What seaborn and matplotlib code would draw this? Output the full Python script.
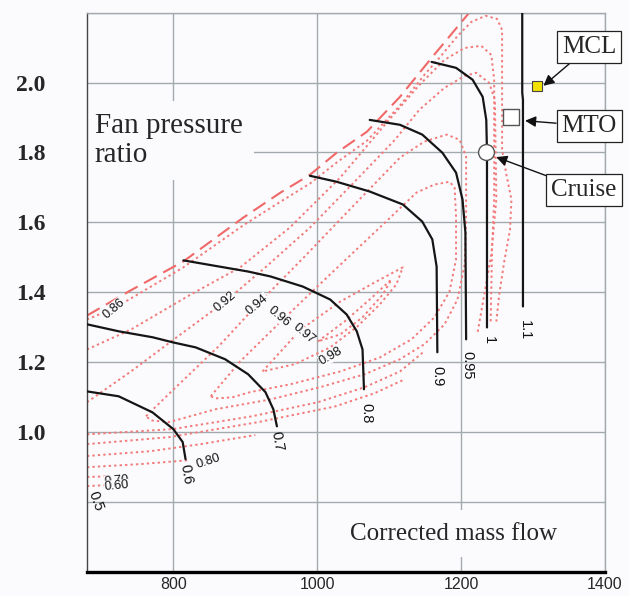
import matplotlib
matplotlib.use("Agg")
import matplotlib.pyplot as plt
import seaborn as sns

# ---- axes / ticks ----
x_ticks = [800, 1000, 1200, 1400]
x_tick_labels = ["800", "1000", "1200", "1400"]
y_ticks = [0.8, 1.0, 1.2, 1.4, 1.6, 1.8, 2.0, 2.2]
y_tick_labels = ["", "1.0", "1.2", "1.4", "1.6", "1.8", "2.0", ""]

# ---- surge line ----
surge_x = [680, 738, 814, 897, 949, 990, 1027, 1069, 1115, 1160, 1211]
surge_y = [1.333, 1.402, 1.488, 1.613, 1.685, 1.736, 1.799, 1.859, 1.959, 2.073, 2.199]

# ---- speed lines (black) ----
spd06_x = [680, 724, 771, 800, 813, 817]
spd06_y = [1.116, 1.102, 1.056, 1.008, 0.971, 0.922]
spd07_x = [680, 724, 771, 800, 831, 872, 904, 928, 939, 944]
spd07_y = [1.308, 1.288, 1.271, 1.256, 1.242, 1.208, 1.165, 1.114, 1.065, 1.016]
spd08_x = [814, 904, 935, 980, 1018, 1041, 1055, 1063, 1065]
spd08_y = [1.491, 1.459, 1.445, 1.416, 1.379, 1.336, 1.288, 1.236, 1.122]
spd09_x = [990, 1027, 1073, 1119, 1146, 1160, 1166, 1167]
spd09_y = [1.733, 1.716, 1.688, 1.651, 1.602, 1.551, 1.473, 1.228]
spd095_x = [1073, 1115, 1146, 1174, 1193, 1202, 1206, 1207]
spd095_y = [1.893, 1.879, 1.851, 1.799, 1.742, 1.665, 1.571, 1.265]
spd10_x = [1159, 1193, 1216, 1230, 1235, 1236, 1236]
spd10_y = [2.059, 2.042, 2.008, 1.959, 1.893, 1.802, 1.299]
spd11_x = [1285, 1285, 1286, 1286]
spd11_y = [2.2, 1.971, 1.951, 1.359]

spd_label_text = ["0.5", "0.6", "0.7", "0.8", "0.9", "0.95", "1", "1.1"]
spd_label_x = [692, 818, 944, 1068, 1167, 1209, 1238, 1289]
spd_label_y = [0.802, 0.879, 0.973, 1.053, 1.159, 1.191, 1.262, 1.291]
spd_label_rot = [-70, -80, -80, -90, -90, -90, -90, -90]

# ---- efficiency contours (red dotted) ----
eff86_x = [680, 717, 755, 814, 897, 949, 990, 1027, 1069, 1115, 1149, 1170, 1195,
           1214, 1234, 1250, 1257, 1257, 1263, 1270, 1268, 1260, 1253, 1249]
eff86_y = [1.322, 1.353, 1.399, 1.471, 1.591, 1.659, 1.711, 1.771, 1.833, 1.934, 2.022,
           2.071, 2.133, 2.173, 2.191, 2.182, 2.151, 1.808, 1.736, 1.665, 1.579, 1.488,
           1.393, 1.316]
eff89_x = [680, 741, 824, 893, 962, 1032, 1094, 1142, 1177, 1205, 1228, 1242, 1246,
           1246, 1243, 1242, 1241]
eff89_y = [1.236, 1.293, 1.393, 1.471, 1.585, 1.728, 1.879, 1.993, 2.065, 2.099, 2.105,
           2.079, 2.008, 1.665, 1.522, 1.408, 1.308]
eff92_x = [680, 741, 810, 872, 928, 990, 1052, 1108, 1142, 1177, 1205, 1221, 1239,
           1247, 1249, 1242, 1231, 1223]
eff92_y = [1.085, 1.173, 1.279, 1.373, 1.471, 1.585, 1.716, 1.836, 1.922, 1.985, 2.019,
           2.028, 1.999, 1.951, 1.665, 1.508, 1.379, 1.285]
eff94_x = [762, 796, 863, 917, 976, 1045, 1115, 1149, 1180, 1198, 1207, 1207, 1205,
           1195, 1177, 1149, 1115, 1066, 1004, 935, 859, 794, 769, 762]
eff94_y = [1.045, 1.113, 1.245, 1.365, 1.488, 1.636, 1.785, 1.831, 1.851, 1.836, 1.788,
           1.608, 1.479, 1.379, 1.308, 1.251, 1.208, 1.165, 1.128, 1.093, 1.065, 1.028,
           1.033, 1.045]
eff96_x = [852, 893, 951, 1018, 1087, 1138, 1163, 1184, 1191, 1193, 1193, 1184, 1163,
           1131, 1087, 1032, 962, 907, 882, 859, 852]
eff96_y = [1.102, 1.202, 1.319, 1.451, 1.585, 1.685, 1.708, 1.716, 1.699, 1.616, 1.494,
           1.402, 1.328, 1.265, 1.213, 1.173, 1.136, 1.114, 1.099, 1.096, 1.102]
eff97_x = [924, 976, 1032, 1080, 1119, 1110, 1087, 1056, 1018, 969, 924]
eff97_y = [1.173, 1.291, 1.373, 1.428, 1.471, 1.422, 1.365, 1.302, 1.242, 1.194, 1.173]
eff98_x = [1001, 1038, 1073, 1103, 1091, 1063, 1032, 1001]
eff98_y = [1.259, 1.316, 1.379, 1.436, 1.393, 1.328, 1.279, 1.259]
low1_x = [680, 799, 910, 1001, 1066, 1115, 1149]
low1_y = [0.993, 1.008, 1.045, 1.085, 1.128, 1.173, 1.231]
low2_x = [680, 794, 918, 1025, 1080, 1122]
low2_y = [0.965, 0.985, 1.028, 1.073, 1.111, 1.151]
low3_x = [680, 769, 838, 914]
low3_y = [0.931, 0.945, 0.965, 0.991]
eff80_x = [680, 755, 821]
eff80_y = [0.899, 0.908, 0.919]
eff70_x = [680, 710]
eff70_y = [0.871, 0.873]
eff60_x = [680, 710]
eff60_y = [0.845, 0.848]

eff_label_text = ["0.86", "0.92", "0.94", "0.96", "0.97", "0.98", "0.80", "0.70", "0.60"]
eff_label_x = [717, 872, 917, 947, 981, 1019, 849, 721, 721]
eff_label_y = [1.353, 1.373, 1.365, 1.331, 1.280, 1.216, 0.916, 0.859, 0.845]
eff_label_rot = [40, 40, 40, -40, -40, 30, 18, 5, 5]

# ---- operating points ----
cruise_x, cruise_y = [1235], [1.80]
mto_x, mto_y = [1270], [1.90]
mcl_x, mcl_y = [1305], [1.99]

# ---- figure ----
sns.set_style("white")
plt.rcParams["font.family"] = ["Liberation Sans", "DejaVu Sans"]
bg = "#fbfbfd"
grid_c = "#a3aaaf"
red_dot = "#f27a7a"

fig = plt.figure(figsize=(6.29, 5.96), dpi=100, facecolor=bg)
ax = fig.add_axes([0.1383, 0.0408, 0.8235, 0.938])
ax.set_facecolor(bg)

# dotted efficiency lines
eff_lines = [(eff86_x, eff86_y), (eff89_x, eff89_y), (eff92_x, eff92_y),
             (eff94_x, eff94_y), (eff96_x, eff96_y), (eff97_x, eff97_y),
             (eff98_x, eff98_y), (low1_x, low1_y), (low2_x, low2_y),
             (low3_x, low3_y), (eff80_x, eff80_y), (eff70_x, eff70_y),
             (eff60_x, eff60_y)]
for xs, ys in eff_lines:
    sns.lineplot(x=xs, y=ys, sort=False, estimator=None, ax=ax, color=red_dot,
                 lw=1.4, linestyle=(0, (1.2, 1.6)), zorder=2)

# surge line
sns.lineplot(x=surge_x, y=surge_y, sort=False, estimator=None, ax=ax,
             color="#f06868", lw=1.5, linestyle=(0, (7, 3.5)), zorder=2)

# speed lines
speed = [(spd06_x, spd06_y), (spd07_x, spd07_y), (spd08_x, spd08_y),
         (spd09_x, spd09_y), (spd095_x, spd095_y), (spd10_x, spd10_y),
         (spd11_x, spd11_y)]
for xs, ys in speed:
    sns.lineplot(x=xs, y=ys, sort=False, estimator=None, ax=ax, color="#151515",
                 lw=1.6, zorder=3)

# contour labels
for t, x, y, r in zip(eff_label_text, eff_label_x, eff_label_y, eff_label_rot):
    ax.text(x, y, t, rotation=r, ha="center", va="center", fontsize=9.2,
            color="#111", zorder=4, rotation_mode="anchor",
            bbox=dict(boxstyle="square,pad=0.02", fc=bg, ec="none"))
for t, x, y, r in zip(spd_label_text, spd_label_x, spd_label_y, spd_label_rot):
    ax.text(x, y, t, rotation=r, ha="center", va="center", fontsize=10.5,
            color="#111", zorder=4, rotation_mode="anchor")

# operating points
sns.scatterplot(x=cruise_x, y=cruise_y, ax=ax, s=130, marker="o", color="white",
                edgecolor="#555", linewidth=1.0, zorder=5)
sns.scatterplot(x=mto_x, y=mto_y, ax=ax, s=140, marker="s", color="white",
                edgecolor="#555", linewidth=1.0, zorder=5)
sns.scatterplot(x=mcl_x, y=mcl_y, ax=ax, s=55, marker="s", color="#f2e200",
                edgecolor="#444", linewidth=0.8, zorder=5)

serif = ["Liberation Serif", "DejaVu Serif"]
box = dict(boxstyle="square,pad=0.2", fc="white", ec="#222", lw=0.9)
arrow = dict(arrowstyle="-|>", color="#111", lw=1.0, mutation_scale=16, shrinkA=0, shrinkB=1)
ax.annotate("MCL", xy=(1313, 1.988), xytext=(1378, 2.102), ha="center", va="center",
            fontsize=18, family=serif, bbox=box, arrowprops=arrow, zorder=6)
ax.annotate("MTO", xy=(1287, 1.891), xytext=(1378, 1.876), ha="center", va="center",
            fontsize=18, family=serif, bbox=box, arrowprops=arrow, zorder=6)
ax.annotate("Cruise", xy=(1247, 1.788), xytext=(1371, 1.693), ha="center", va="center",
            fontsize=18, family=serif, bbox=box, arrowprops=arrow, zorder=6)

# axis titles placed inside plot, white boxes interrupt the grid
ax.text(691, 1.913, "Fan pressure\nratio", ha="left", va="top", fontsize=21,
        family=serif, linespacing=1.15, zorder=1.5,
        bbox=dict(boxstyle="square,pad=0.4", fc=bg, ec="none"))
ax.text(1189, 0.708, "Corrected mass flow", ha="center", va="center", fontsize=18,
        family=serif, zorder=1.5,
        bbox=dict(boxstyle="square,pad=0.5", fc=bg, ec="none"))

# axes
ax.set_xlim(680, 1400)
ax.set_ylim(0.6, 2.2)
ax.set_xticks(x_ticks, x_tick_labels)
ax.set_yticks(y_ticks, y_tick_labels)
ax.set_xlabel("")
ax.set_ylabel("")
ax.grid(True, color=grid_c, lw=1.0)
ax.set_axisbelow(True)
ax.tick_params(axis="both", length=0)
ax.tick_params(axis="x", pad=4, labelsize=11.5)
ax.tick_params(axis="y", pad=30)
for lab in ax.get_yticklabels():
    lab.set_family(serif)
    lab.set_fontweight("bold")
    lab.set_fontsize(17)
for side in ["top", "right"]:
    ax.spines[side].set_color(grid_c)
    ax.spines[side].set_linewidth(1.0)
ax.spines["left"].set_color("#444")
ax.spines["left"].set_linewidth(1.0)
ax.spines["bottom"].set_color("#000")
ax.spines["bottom"].set_linewidth(2.4)

fig.savefig("out.png", dpi=100, facecolor=bg)
